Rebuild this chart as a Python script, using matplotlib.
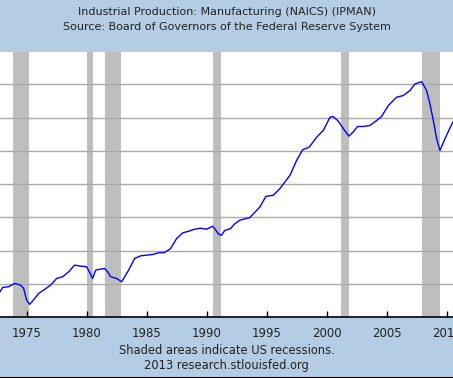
import matplotlib
matplotlib.use("Agg")
import matplotlib.pyplot as plt

# values (fractional year, index 2007=100)
years = [1972.78, 1973.0, 1973.5, 1974.0, 1974.5, 1974.75, 1975.0, 1975.25, 1975.5,
         1976.0, 1976.5, 1977.0, 1977.5, 1978.0, 1978.5, 1979.0, 1979.5, 1980.0,
         1980.3, 1980.5, 1980.75, 1981.0, 1981.5, 1981.75, 1982.0, 1982.5, 1982.92,
         1983.5, 1984.0, 1984.5, 1985.0, 1985.5, 1986.0, 1986.5, 1987.0, 1987.5,
         1988.0, 1988.5, 1989.0, 1989.5, 1990.0, 1990.5, 1990.75, 1991.0, 1991.25,
         1991.5, 1992.0, 1992.3, 1992.75, 1993.6, 1994.44, 1994.94, 1995.55, 1996.1,
         1996.94, 1997.5, 1998.0, 1998.55, 1999.17, 1999.72, 2000.28, 2000.55,
         2000.97, 2001.5, 2001.86, 2002.2, 2002.58, 2003.05, 2003.6, 2004.17,
         2004.58, 2005.14, 2005.83, 2006.38, 2006.94, 2007.36, 2007.92, 2008.33,
         2008.61, 2008.89, 2009.17, 2009.44, 2009.86, 2010.28, 2010.6]
ipman = [37.6, 38.9, 39.1, 40.1, 39.6, 38.6, 35.1, 33.8, 34.8,
         37.1, 38.3, 39.6, 41.6, 42.1, 43.6, 45.6, 45.3, 45.1,
         43.1, 41.6, 44.1, 44.3, 44.6, 43.6, 42.1, 41.6, 40.6,
         44.1, 47.6, 48.4, 48.6, 48.8, 49.3, 49.4, 50.6, 53.6,
         55.3, 55.8, 56.4, 56.7, 56.4, 57.3, 56.2, 54.9, 54.6,
         56.0, 56.6, 57.9, 59.1, 59.9, 63.1, 66.3, 66.6, 68.6,
         72.6, 77.1, 80.3, 81.1, 84.1, 86.1, 90.1, 90.3,
         88.9, 86.1, 84.4, 85.6, 87.3, 87.3, 87.6, 89.1,
         90.3, 93.6, 96.1, 96.6, 98.1, 100.1, 100.8, 98.1,
         94.1, 89.1, 83.6, 80.1, 83.6, 86.9, 89.2]

recessions = [(1973.83, 1975.17), (1980.0, 1980.5), (1981.5, 1982.88),
              (1990.5, 1991.17), (2001.17, 2001.9), (2007.95, 2009.48)]
xticks = [1975, 1980, 1985, 1990, 1995, 2000, 2005, 2010]
yticks = [40, 50, 60, 70, 80, 90, 100]

bg = '#B4CDE4'
fig = plt.figure(figsize=(4.53, 3.78), dpi=100, facecolor=bg)
ax = fig.add_axes([0, 61/378, 1, 265/378])

for a, b in recessions:
    ax.axvspan(a, b, color='#BEBEBE', lw=0, zorder=1)
for v in yticks:
    ax.axhline(v, color='#AAAAAA', lw=1, zorder=2)
ax.plot(years, ipman, color='#0000FF', lw=1, zorder=3)

ax.set_xlim(1972.78, 2010.53)
ax.set_ylim(30, 109.7)
ax.set_xticks(xticks)
ax.set_xticklabels([str(x) for x in xticks], fontsize=8.5, color='#222222')
ax.set_yticks([])
ax.tick_params(axis='x', direction='in', length=4, width=1, pad=7, colors='black')
for lab in ax.get_xticklabels():
    lab.set_color('#222222')
for s in ['left', 'right', 'top']:
    ax.spines[s].set_visible(False)
ax.spines['bottom'].set_linewidth(1.2)

fig.text(0.5, 1 - 12/378, 'Industrial Production: Manufacturing (NAICS) (IPMAN)',
         ha='center', va='center', fontsize=8, color='#222222')
fig.text(0.5, 1 - 27/378, 'Source: Board of Governors of the Federal Reserve System',
         ha='center', va='center', fontsize=8, color='#222222')
fig.text(0.5, 1 - 351/378, 'Shaded areas indicate US recessions.',
         ha='center', va='center', fontsize=8.3, color='#222222')
fig.text(0.5, 1 - 365/378, '2013 research.stlouisfed.org',
         ha='center', va='center', fontsize=8.3, color='#222222')
fig.add_artist(plt.Line2D([0, 1], [0.5/378, 0.5/378], color='black', lw=1.5))

fig.savefig('out.png', dpi=100, facecolor=bg)
